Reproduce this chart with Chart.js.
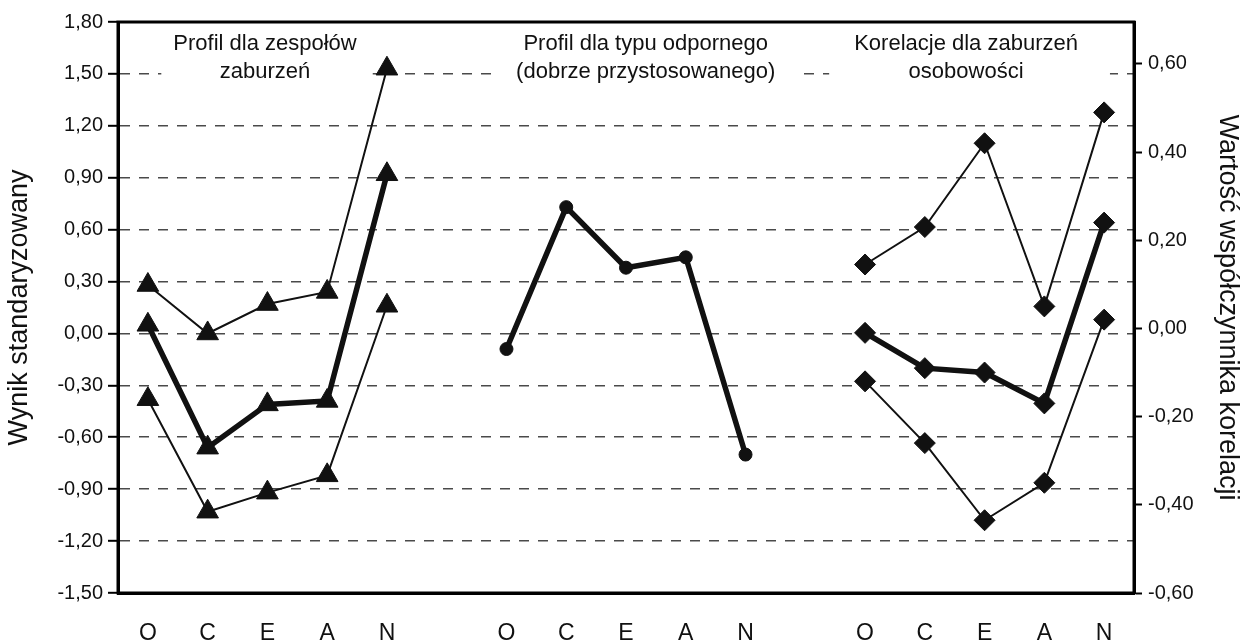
<!DOCTYPE html>
<html lang="pl">
<head>
<meta charset="utf-8">
<title>Profile OCEAN</title>
<script src="https://cdn.jsdelivr.net/npm/chart.js@4/dist/chart.umd.min.js"></script>
<style>
  html, body { margin: 0; padding: 0; background: #fff; }
  #wrap { width: 1244px; height: 644px; }
</style>
</head>
<body>
<div id="wrap"><canvas id="chart" width="1244" height="644"></canvas></div>
<script>
// Big Five traits, repeated for the three panels
const traits = ['O', 'C', 'E', 'A', 'N'];

// Panel 1: profile for disorder clusters (standardized scores)
const disorderUpper = [0.28, 0.00, 0.17, 0.24, 1.53];
const disorderMean  = [0.05, -0.66, -0.41, -0.39, 0.92];
const disorderLower = [-0.38, -1.03, -0.92, -0.82, 0.16];

// Panel 2: resilient (well-adjusted) type profile (standardized scores)
const resilientMean = [-0.09, 0.73, 0.38, 0.44, -0.70];

// Panel 3: correlations with personality disorders (right axis)
const corrUpper = [0.145, 0.23, 0.42, 0.05, 0.49];
const corrMean  = [-0.01, -0.09, -0.10, -0.17, 0.24];
const corrLower = [-0.12, -0.26, -0.435, -0.35, 0.02];

// Axis ticks
const leftTicks  = [-1.5, -1.2, -0.9, -0.6, -0.3, 0, 0.3, 0.6, 0.9, 1.2, 1.5, 1.8];
const rightTicks = [-0.6, -0.4, -0.2, 0, 0.2, 0.4, 0.6];

// Panel headings
const panelTitles = [
  { lines: ['Profil dla zespołów', 'zaburzeń'], at: 1.96, padL: 12, padR: 16 },
  { lines: ['Profil dla typu odpornego', '(dobrze przystosowanego)'], at: 8.33, padL: 20, padR: 20 },
  { lines: ['Korelacje dla zaburzeń', 'osobowości'], at: 13.69, padL: 25, padR: 32 }
];

// Category axis: three groups of five with an empty slot between groups
const labels = [...traits, '', ...traits, '', ...traits];
const GROUP_START = [0, 6, 12];
function place(values, group) {
  const arr = new Array(labels.length).fill(null);
  values.forEach((v, i) => { arr[GROUP_START[group] + i] = v; });
  return arr;
}

const FONT = "'Liberation Sans', Arial, sans-serif";
const fmt = v => (Math.abs(v) < 1e-9 ? 0 : v).toFixed(2).replace('.', ',');

function series(values, group, style, axis, thick, radius) {
  return {
    data: place(values, group),
    yAxisID: axis,
    borderColor: '#111',
    backgroundColor: '#111',
    borderWidth: thick ? 5.5 : 2,
    pointStyle: style,
    pointRadius: radius,
    pointHoverRadius: radius,
    pointBorderWidth: 1,
    pointBackgroundColor: '#111',
    pointBorderColor: '#111',
    spanGaps: false,
    tension: 0,
    fill: false
  };
}

// White boxes with the panel headings, drawn over the grid but under the data
const panelTitlePlugin = {
  id: 'panelTitles',
  beforeDatasetsDraw(chart) {
    const { ctx, chartArea, scales } = chart;
    ctx.save();
    ctx.font = '22px ' + FONT;
    ctx.textAlign = 'center';
    ctx.textBaseline = 'middle';
    panelTitles.forEach(t => {
      const cx = scales.x.getPixelForValue(t.at);
      const w = Math.max(...t.lines.map(l => ctx.measureText(l).width));
      ctx.fillStyle = '#fff';
      ctx.fillRect(cx - w / 2 - t.padL, chartArea.top + 2, w + t.padL + t.padR, 64);
      ctx.fillStyle = '#111';
      t.lines.forEach((l, i) => ctx.fillText(l, cx, chartArea.top + 22 + i * 28));
    });
    ctx.restore();
  },
  afterDraw(chart) {
    const { ctx, chartArea } = chart;
    ctx.save();
    ctx.strokeStyle = '#000';
    ctx.lineWidth = 3;
    ctx.strokeRect(chartArea.left, chartArea.top, chartArea.right - chartArea.left, chartArea.bottom - chartArea.top);
    ctx.restore();
  }
};

new Chart(document.getElementById('chart'), {
  type: 'line',
  data: {
    labels,
    datasets: [
      series(disorderUpper, 0, 'triangle', 'y', false, 12.5),
      series(disorderLower, 0, 'triangle', 'y', false, 12.5),
      series(disorderMean, 0, 'triangle', 'y', true, 12.5),
      series(resilientMean, 1, 'circle', 'y', true, 6.5),
      series(corrUpper, 2, 'rectRot', 'y1', false, 10.5),
      series(corrLower, 2, 'rectRot', 'y1', false, 10.5),
      series(corrMean, 2, 'rectRot', 'y1', true, 10.5)
    ]
  },
  plugins: [panelTitlePlugin],
  options: {
    responsive: false,
    animation: false,
    events: [],
    layout: { padding: { top: 22, left: 0, right: 0, bottom: 0 }, autoPadding: false },
    plugins: { legend: { display: false }, tooltip: { enabled: false } },
    scales: {
      x: {
        type: 'category',
        offset: true,
        grid: { display: false, drawTicks: false },
        border: { display: true, color: '#000', width: 3 },
        ticks: {
          autoSkip: false, maxRotation: 0, padding: 27,
          color: '#111', font: { family: FONT, size: 23 }
        },
        afterFit(scale) { scale.height = 51; }
      },
      y: {
        position: 'left',
        min: -1.5, max: 1.8,
        afterBuildTicks(scale) { scale.ticks = leftTicks.map(v => ({ value: v })); },
        grid: {
          color: ctx => {
            const v = ctx.tick ? ctx.tick.value : 0;
            return (v <= -1.5 + 1e-6 || v >= 1.8 - 1e-6) ? 'rgba(0,0,0,0)' : '#4a4a4a';
          },
          lineWidth: 1.6,
          tickColor: '#000',
          tickWidth: 2,
          tickLength: 10,
          drawTicks: true
        },
        border: { display: true, color: '#000', width: 3, dash: [10, 9] },
        ticks: {
          padding: 5, color: '#111',
          font: { family: FONT, size: 20 },
          callback: v => fmt(v)
        },
        title: {
          display: true, text: 'Wynik standaryzowany', color: '#111',
          font: { family: FONT, size: 27 }, padding: { top: 3, bottom: 0 }
        },
        afterFit(scale) { scale.width = 118; }
      },
      y1: {
        position: 'right',
        min: -0.6, max: 0.695,
        afterBuildTicks(scale) { scale.ticks = rightTicks.map(v => ({ value: v })); },
        grid: {
          drawOnChartArea: false,
          drawTicks: true,
          tickColor: '#000',
          tickWidth: 2,
          tickLength: 8
        },
        border: { display: true, color: '#000', width: 3 },
        ticks: {
          padding: 6, color: '#111',
          font: { family: FONT, size: 20 },
          callback: v => fmt(v)
        },
        title: {
          display: true, text: 'Wartość współczynnika korelacji', color: '#111',
          font: { family: FONT, size: 27 }, padding: { top: 0, bottom: 0 }
        },
        afterFit(scale) { scale.width = 110; }
      }
    }
  }
});
</script>
</body>
</html>
